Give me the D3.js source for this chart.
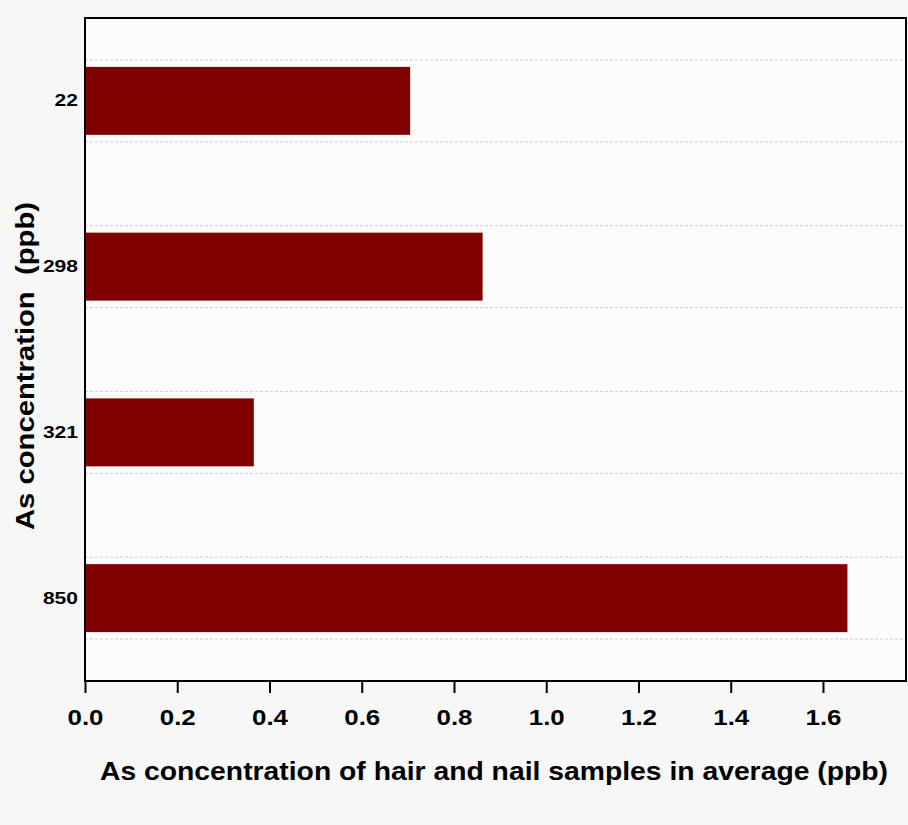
<!DOCTYPE html>
<html>
<head>
<meta charset="utf-8">
<script src="https://cdn.jsdelivr.net/npm/d3@7"></script>
<style>
  body { margin: 0; background: #f7f7f7; }
  svg { display: block; font-family: "Liberation Sans", Arial, sans-serif; }
</style>
</head>
<body>
<svg id="chart" width="908" height="825"></svg>
<script>
// As concentration in water (ppb) and average in hair/nail samples (ppb)
const categories = ['22', '298', '321', '850'];
const values = [0.705, 0.862, 0.366, 1.653];
const xTicks = [0, 0.2, 0.4, 0.6, 0.8, 1.0, 1.2, 1.4, 1.6];

const margin = { top: 18, right: 2, bottom: 144, left: 85 };
const width = 908;
const height = 825;
const innerW = width - margin.left - margin.right;
const innerH = height - margin.top - margin.bottom;

const svg = d3.select('#chart');

const x = d3.scaleLinear()
  .domain([0, 1.78])
  .range([0, innerW]);

const y = d3.scaleBand()
  .domain(categories)
  .range([0, innerH])
  .paddingInner(0.59)
  .paddingOuter(0.295);

const g = svg.append('g')
  .attr('transform', `translate(${margin.left},${margin.top})`);

g.append('rect')
  .attr('width', innerW)
  .attr('height', innerH)
  .attr('fill', '#fcfcfc');

// dashed guide lines above and below each bar
const gridY = [];
categories.forEach((c) => {
  gridY.push(y(c) - 7, y(c) + y.bandwidth() + 7);
});

g.selectAll('.grid')
  .data(gridY)
  .join('line')
  .attr('class', 'grid')
  .attr('x1', 0)
  .attr('x2', innerW)
  .attr('y1', d => d)
  .attr('y2', d => d)
  .attr('stroke', '#cfcfcf')
  .attr('stroke-width', 1)
  .attr('stroke-dasharray', '3,2');

g.selectAll('.bar')
  .data(categories)
  .join('rect')
  .attr('class', 'bar')
  .attr('x', 0)
  .attr('y', d => y(d))
  .attr('width', (d, i) => x(values[i]))
  .attr('height', y.bandwidth())
  .attr('fill', '#800000');

// frame
g.append('rect')
  .attr('width', innerW)
  .attr('height', innerH)
  .attr('fill', 'none')
  .attr('stroke', '#000')
  .attr('stroke-width', 2);

const xAxis = g.append('g')
  .attr('transform', `translate(0,${innerH})`)
  .call(d3.axisBottom(x)
    .tickValues(xTicks)
    .tickFormat(d3.format('.1f'))
    .tickSize(12)
    .tickPadding(16));

xAxis.select('.domain').remove();
xAxis.selectAll('line').attr('stroke', '#000').attr('stroke-width', 2);
xAxis.selectAll('text')
  .attr('fill', '#000')
  .attr('textLength', 36)
  .attr('lengthAdjust', 'spacingAndGlyphs')
  .style('font-size', '22px')
  .style('font-weight', 'bold');

const yAxis = g.append('g')
  .call(d3.axisLeft(y).tickSize(0).tickPadding(7));

yAxis.select('.domain').remove();
yAxis.selectAll('text')
  .attr('fill', '#000')
  .attr('textLength', d => d.length * 11.7)
  .attr('lengthAdjust', 'spacingAndGlyphs')
  .style('font-size', '17px')
  .style('font-weight', 'bold');

svg.append('text')
  .attr('x', 494)
  .attr('y', 780)
  .attr('text-anchor', 'middle')
  .attr('textLength', 788)
  .attr('lengthAdjust', 'spacingAndGlyphs')
  .style('font-size', '25px')
  .style('font-weight', 'bold')
  .text('As concentration of hair and nail samples in average (ppb)');

svg.append('text')
  .attr('transform', 'translate(34,366) rotate(-90)')
  .attr('text-anchor', 'middle')
  .attr('textLength', 328)
  .attr('lengthAdjust', 'spacingAndGlyphs')
  .style('font-size', '25px')
  .style('font-weight', 'bold')
  .style('white-space', 'pre')
  .text('As concentration  (ppb)');
</script>
</body>
</html>
